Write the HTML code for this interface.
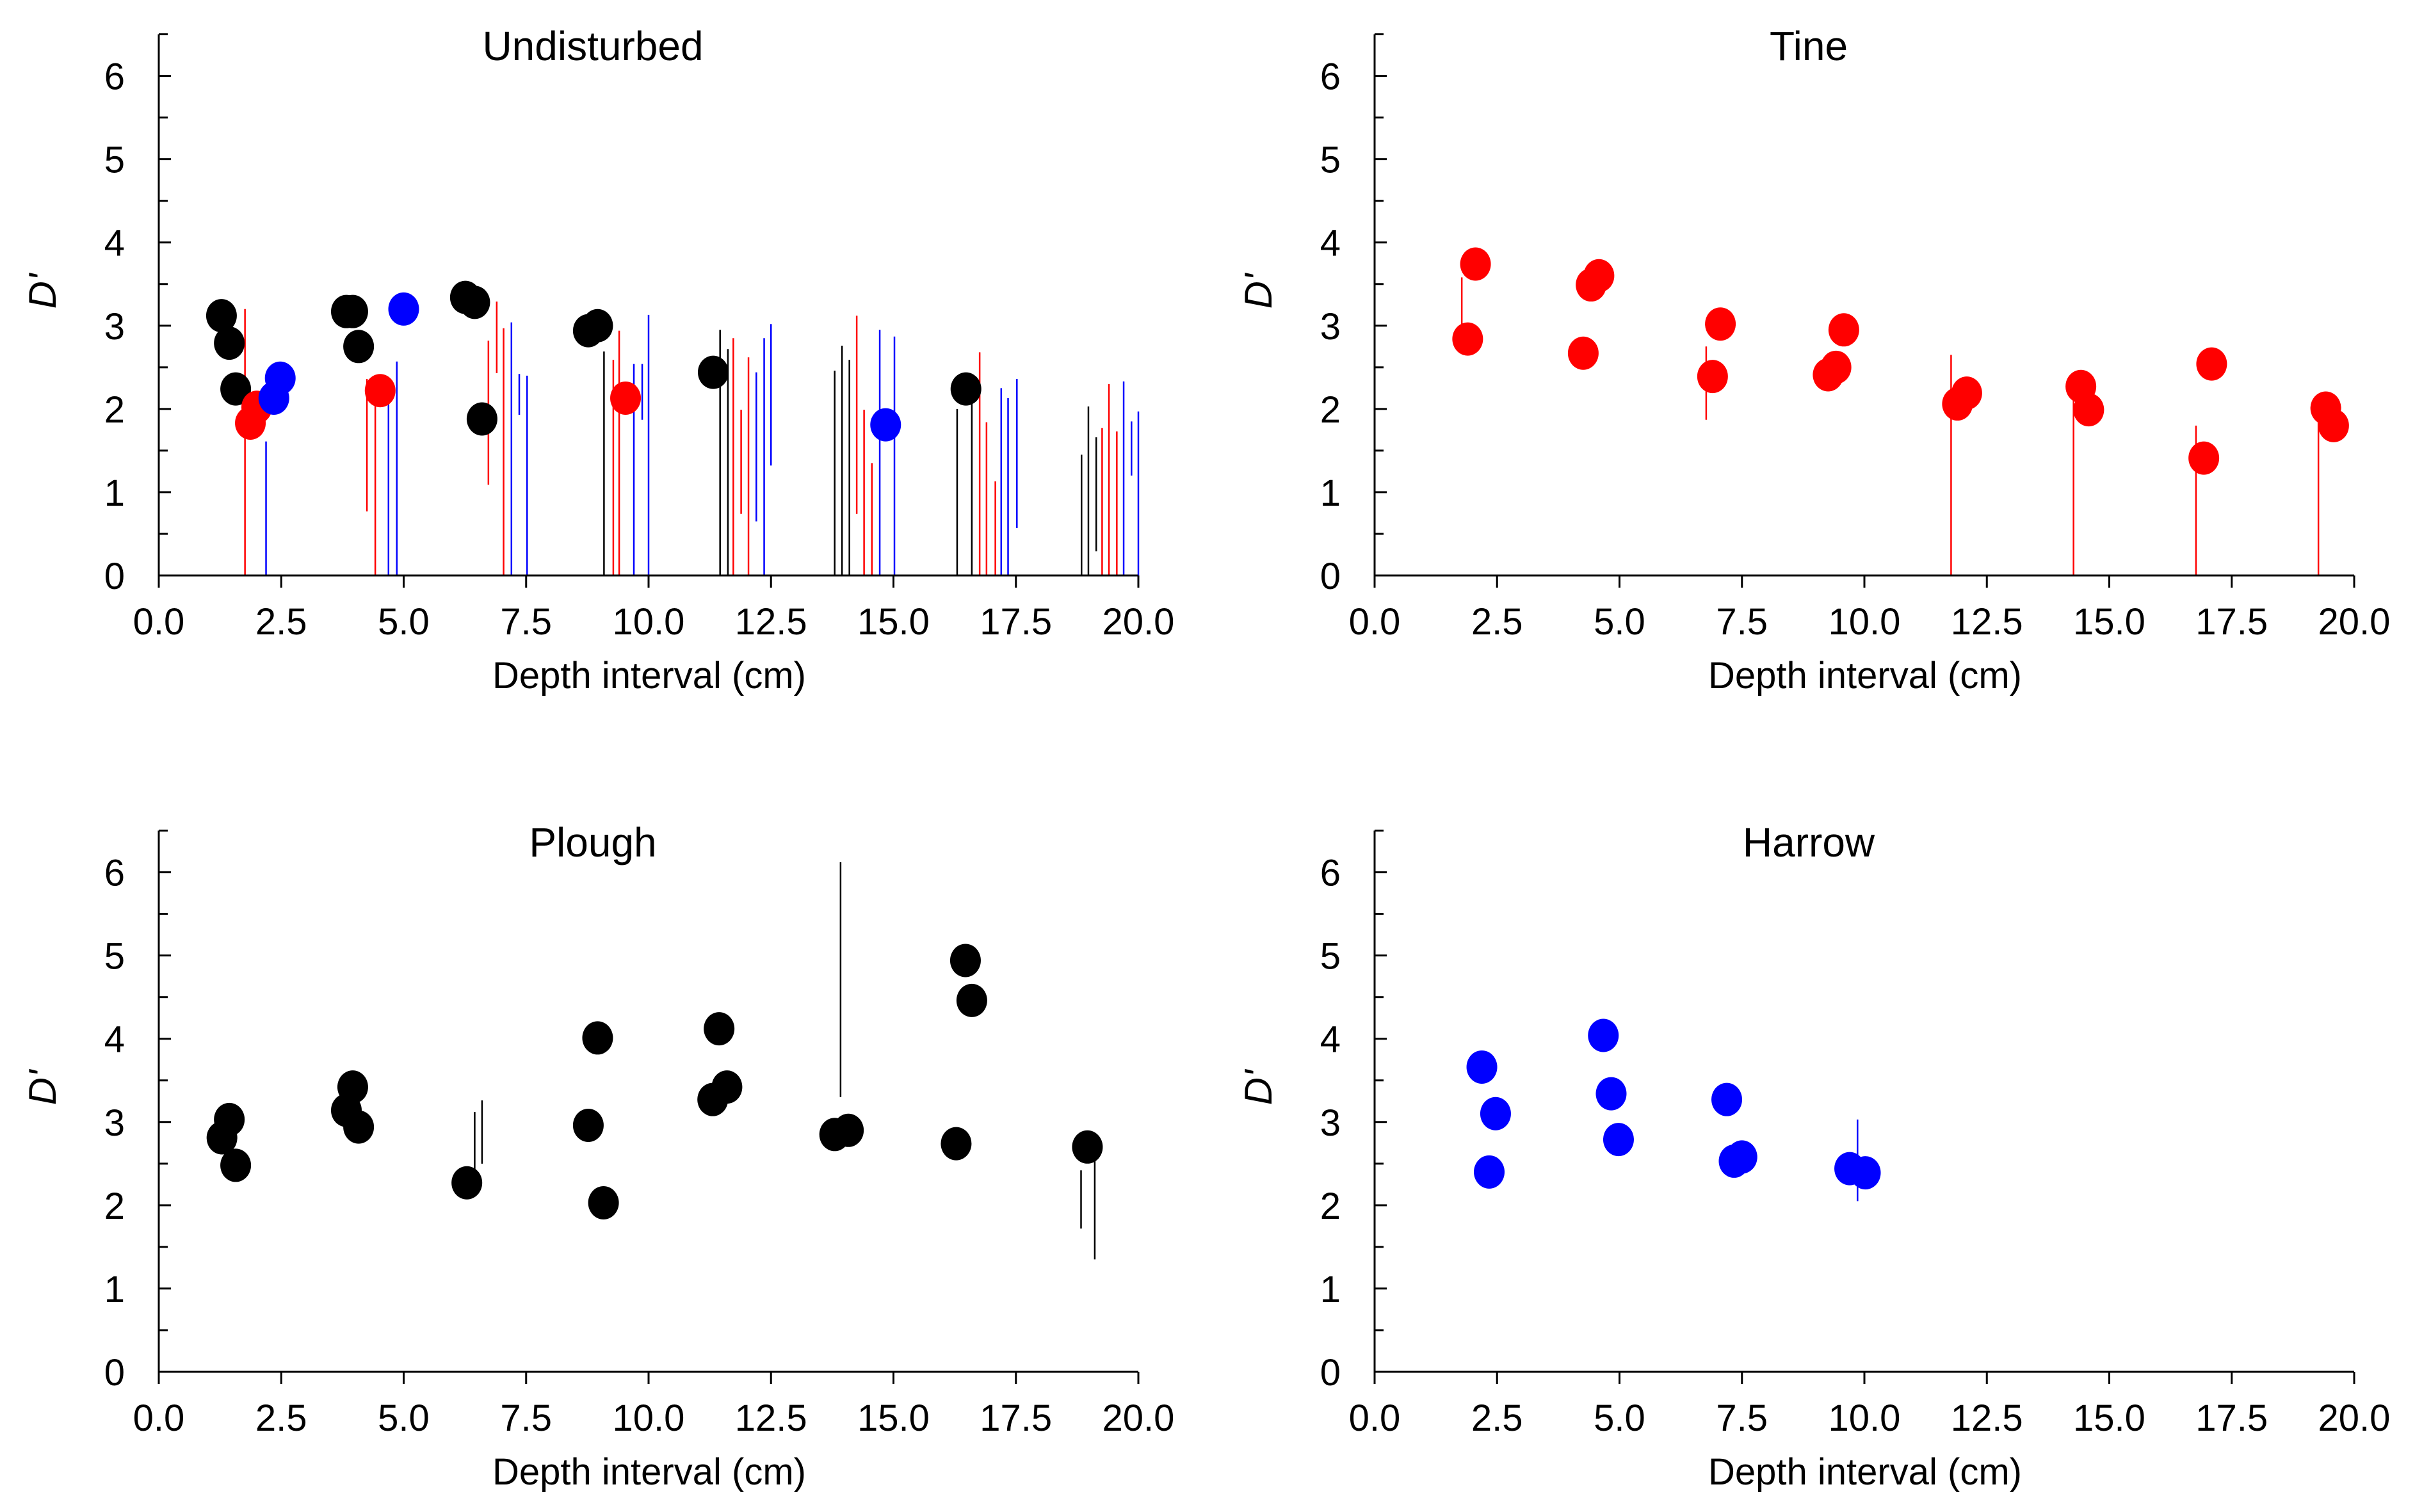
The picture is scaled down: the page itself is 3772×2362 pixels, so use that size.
<!DOCTYPE html>
<html><head><meta charset="utf-8">
<style>
html,body{margin:0;padding:0;background:#fff;}
svg{display:block;font-family:"Liberation Sans",Arial,sans-serif;}
</style></head>
<body>
<svg id="chart" width="3772" height="2362" viewBox="0 0 3772 2362" xmlns="http://www.w3.org/2000/svg"></svg>
<script>
// ---------- data ----------
const panelTitles = ["Undisturbed","Tine","Plough","Harrow"];
const xTickLabels = ["0.0","2.5","5.0","7.5","10.0","12.5","15.0","17.5","20.0"];
const yTickLabels = ["0","1","2","3","4","5","6"];

// Undisturbed
const undBlackX = [1.28,1.44,1.57,3.83,3.96,4.08,6.26,6.45,6.6,8.77,8.96,11.32,16.48];
const undBlackY = [3.12,2.79,2.24,3.17,3.17,2.75,3.34,3.28,1.88,2.94,3.0,2.44,2.24];
const undRedX = [1.87,2.0,4.52,9.53];
const undRedY = [1.83,2.02,2.22,2.13];
const undBlueX = [2.35,2.48,5.0,14.84];
const undBlueY = [2.13,2.37,3.2,1.81];
const undRedErrX  = [1.76,4.25,4.42,6.73,6.9,7.04,9.28,9.4,11.73,11.89,12.04,14.25,14.4,14.56,16.76,16.9,17.08,19.26,19.4,19.56];
const undRedErrLo = [0,0.77,0,1.09,2.43,0,0,0,0,0.74,0,0.74,0,0,0,0,0,0,0,0];
const undRedErrHi = [3.2,2.36,2.28,2.82,3.29,2.97,2.59,2.94,2.85,1.99,2.62,3.12,1.99,1.35,2.68,1.84,1.13,1.77,2.3,1.73];
const undBlueErrX  = [2.19,4.69,4.86,7.2,7.36,7.52,9.7,9.87,10.0,12.2,12.36,12.5,14.72,15.02,17.2,17.34,17.52,19.7,19.86,20.0];
const undBlueErrLo = [0,0,0,0,1.93,0,0,1.87,0,0.65,0,1.32,0,0,0,0,0.57,0,1.2,0];
const undBlueErrHi = [1.61,2.2,2.57,3.04,2.42,2.4,2.54,2.54,3.13,2.44,2.85,3.02,2.95,2.87,2.25,2.13,2.36,2.33,1.85,1.97];
const undBlackErrX  = [9.09,11.46,11.62,13.8,13.95,14.1,16.3,16.6,18.84,18.98,19.14];
const undBlackErrLo = [0,0,0,0,0,0,0,0,0,0,0.29];
const undBlackErrHi = [2.69,2.95,2.72,2.46,2.76,2.59,2.0,2.2,1.45,2.03,1.66];

// Tine
const tineX = [1.9,2.06,4.26,4.42,4.58,6.9,7.06,9.26,9.42,9.58,11.9,12.09,14.42,14.58,16.93,17.09,19.42,19.58];
const tineY = [2.84,3.74,2.67,3.49,3.6,2.39,3.02,2.41,2.5,2.95,2.06,2.19,2.27,1.99,1.41,2.54,2.01,1.8];
const tineErrX  = [1.78,6.77,11.77,14.27,16.77,19.27];
const tineErrLo = [2.84,1.87,0,0,0,0];
const tineErrHi = [3.58,2.75,2.65,2.2,1.8,2.0];

// Plough
const ploughX = [1.29,1.44,1.57,3.83,3.96,4.08,6.29,8.77,8.96,9.08,11.31,11.44,11.6,13.8,14.08,16.28,16.47,16.6,18.96];
const ploughY = [2.81,3.03,2.48,3.14,3.42,2.94,2.27,2.96,4.01,2.03,3.27,4.12,3.42,2.85,2.9,2.74,4.94,4.46,2.7];
const ploughErrX  = [6.45,6.6,13.92,18.83,19.11];
const ploughErrLo = [2.2,2.5,3.3,1.72,1.35];
const ploughErrHi = [3.12,3.26,6.12,2.42,2.8];

// Harrow
const harrowX = [2.19,2.34,2.47,4.67,4.83,4.98,7.19,7.34,7.5,9.7,10.02];
const harrowY = [3.66,2.4,3.1,4.04,3.34,2.79,3.27,2.53,2.58,2.44,2.39];
const harrowErrX  = [9.86];
const harrowErrLo = [2.05];
const harrowErrHi = [3.03];

// ---------- layout ----------
const NS = "http://www.w3.org/2000/svg";
const svg = document.getElementById("chart");
const panelOrigins = [[248,899],[2147,899],[248,2143],[2147,2143]];
const PW = 1530, PU = 130.07;
function mk(tag, attrs, parent){
  const e = document.createElementNS(NS, tag);
  for (const k in attrs) e.setAttribute(k, attrs[k]);
  parent.appendChild(e);
  return e;
}
function drawPanel(i, errs, pts){
  const [ox, oy] = panelOrigins[i];
  const sx = v => ox + v / 20 * PW;
  const sy = v => oy - v * PU;
  const g = mk("g", {}, svg);
  
  
  const t = mk("text", {x: ox + 678, y: oy - 805, "text-anchor": "middle", "font-size": 64, fill: "#000"}, g);
  t.textContent = panelTitles[i];
  
  
  errs.forEach(es => {
    es.x.forEach((xv, j) => {
      const l = mk("line", {x1: sx(xv), x2: sx(xv), y1: sy(es.lo[j]), y2: sy(es.hi[j]), stroke: es.c, "stroke-width": 2.5}, g);
      
      
    });
  });
  const ax = mk("g", {stroke: "#000", "stroke-width": 3}, g);
  
  
  mk("line", {x1: ox, x2: ox, y1: sy(6.5), y2: oy + 19}, ax);
  mk("line", {x1: ox, x2: sx(20), y1: oy, y2: oy}, ax);
  for (let k = 0; k <= 13; k++) {
    const v = k * 0.5;
    mk("line", {x1: ox, x2: ox + (k % 2 ? 14 : 19), y1: sy(v), y2: sy(v)}, ax);
  }
  xTickLabels.forEach((lab, k) => {
    const v = k * 2.5;
    mk("line", {x1: sx(v), x2: sx(v), y1: oy, y2: oy + 19}, ax);
    const tx = mk("text", {x: sx(v), y: oy + 92, "text-anchor": "middle", "font-size": 58, fill: "#000"}, g);
    tx.textContent = lab;
    
    
  });
  yTickLabels.forEach((lab, k) => {
    const ty = mk("text", {x: ox - 53, y: sy(k) + 21, "text-anchor": "end", "font-size": 58, fill: "#000"}, g);
    ty.textContent = lab;
    
    
  });
  const xt = mk("text", {x: ox + 766, y: oy + 176, "text-anchor": "middle", "font-size": 58, fill: "#000"}, g);
  xt.textContent = "Depth interval (cm)";
  
  
  const yt = mk("text", {x: 0, y: 0, "text-anchor": "middle", "font-size": 60, "font-style": "italic", fill: "#000", transform: `translate(${ox - 161},${oy - 444}) rotate(-90)`}, g);
  yt.textContent = "D'";
  
  
  pts.forEach(ps => {
    ps.x.forEach((xv, j) => {
      const c = mk("ellipse", {cx: sx(xv), cy: sy(ps.y[j]), rx: 24, ry: 26, fill: ps.c}, g);
      
      
    });
  });
}
const RED = "#ff0000", BLUE = "#0000ff", BLACK = "#000000";
drawPanel(0,
  [{x: undRedErrX, lo: undRedErrLo, hi: undRedErrHi, c: RED},
   {x: undBlueErrX, lo: undBlueErrLo, hi: undBlueErrHi, c: BLUE},
   {x: undBlackErrX, lo: undBlackErrLo, hi: undBlackErrHi, c: BLACK}],
  [{x: undBlackX, y: undBlackY, c: BLACK},
   {x: undRedX, y: undRedY, c: RED},
   {x: undBlueX, y: undBlueY, c: BLUE}]);
drawPanel(1, [{x: tineErrX, lo: tineErrLo, hi: tineErrHi, c: RED}], [{x: tineX, y: tineY, c: RED}]);
drawPanel(2, [{x: ploughErrX, lo: ploughErrLo, hi: ploughErrHi, c: BLACK}], [{x: ploughX, y: ploughY, c: BLACK}]);
drawPanel(3, [{x: harrowErrX, lo: harrowErrLo, hi: harrowErrHi, c: BLUE}], [{x: harrowX, y: harrowY, c: BLUE}]);
</script>
</body></html>
